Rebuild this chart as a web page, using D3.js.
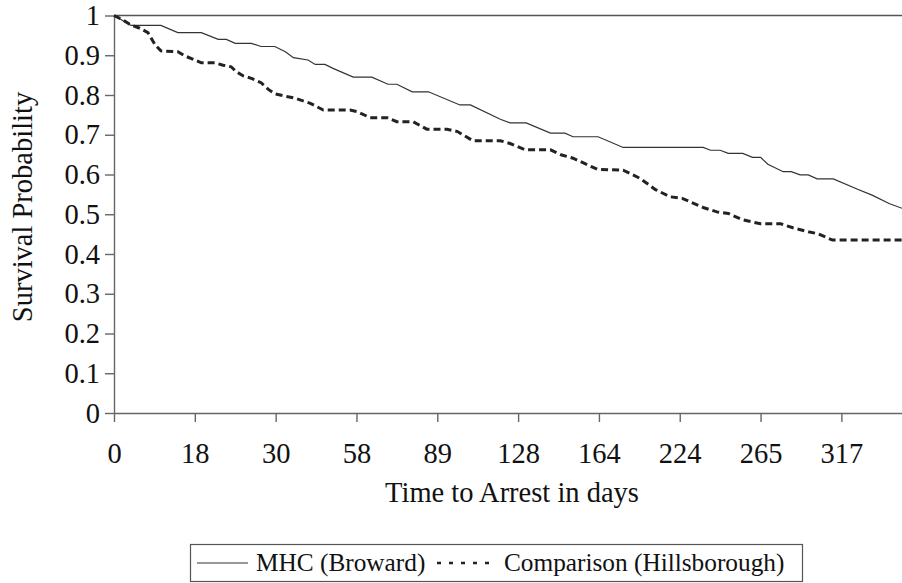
<!DOCTYPE html>
<html>
<head>
<meta charset="utf-8">
<script src="https://cdn.jsdelivr.net/npm/d3@7"></script>
<style>
  body { margin: 0; background: white; }
  svg text { font-family: "Liberation Serif", "Times New Roman", serif; fill: #111; }
</style>
</head>
<body>
<svg id="chart" width="902" height="583"></svg>
<script>
// x positions are in category-tick units (tick i sits at position i)
const tickLabels = ['0', '18', '30', '58', '89', '128', '164', '224', '265', '317'];
const yTicks = [0, 0.1, 0.2, 0.3, 0.4, 0.5, 0.6, 0.7, 0.8, 0.9, 1];

const mhcPos = [0, 0.21, 0.58, 0.79, 1.08, 1.29, 1.39, 1.50, 1.70, 1.82, 1.99, 2.12, 2.22, 2.40, 2.49,
  2.61, 2.71, 2.96, 3.19, 3.39, 3.50, 3.69, 3.89, 4.28, 4.41, 4.78, 4.90, 5.10, 5.40, 5.58, 5.68,
  5.99, 6.30, 7.29, 7.38, 7.50, 7.60, 7.78, 7.90, 8.00, 8.09, 8.28, 8.38, 8.49, 8.59, 8.70, 8.90,
  9.20, 9.38, 9.59, 9.75];
const mhcSurv = [1.0, 0.975, 0.975, 0.957, 0.957, 0.940, 0.940, 0.930, 0.930, 0.922, 0.922, 0.909, 0.894, 0.888, 0.877,
  0.877, 0.867, 0.845, 0.845, 0.827, 0.827, 0.808, 0.808, 0.775, 0.775, 0.739, 0.730, 0.730, 0.704, 0.704, 0.695,
  0.695, 0.668, 0.668, 0.661, 0.661, 0.653, 0.653, 0.643, 0.643, 0.626, 0.607, 0.607, 0.599, 0.599, 0.589, 0.589,
  0.563, 0.548, 0.527, 0.515];

const cmpPos = [0, 0.11, 0.21, 0.32, 0.42, 0.51, 0.58, 0.79, 0.88, 1.00, 1.08, 1.25, 1.35, 1.45, 1.51,
  1.60, 1.70, 1.82, 1.91, 1.99, 2.12, 2.24, 2.43, 2.59, 2.92, 3.01, 3.17, 3.38, 3.50, 3.70, 3.87,
  4.12, 4.25, 4.44, 4.78, 4.90, 5.09, 5.40, 5.54, 5.68, 5.98, 6.30, 6.51, 6.70, 6.88, 7.03, 7.29,
  7.46, 7.60, 7.78, 8.00, 8.25, 8.40, 8.59, 8.71, 8.89, 9.75];
const cmpSurv = [1.0, 0.989, 0.976, 0.968, 0.957, 0.926, 0.911, 0.909, 0.898, 0.888, 0.881, 0.881, 0.875, 0.871, 0.859,
  0.848, 0.842, 0.831, 0.814, 0.803, 0.797, 0.792, 0.779, 0.762, 0.762, 0.758, 0.743, 0.743, 0.733, 0.733, 0.714,
  0.714, 0.708, 0.685, 0.685, 0.678, 0.662, 0.662, 0.649, 0.641, 0.613, 0.611, 0.590, 0.562, 0.544, 0.540, 0.517,
  0.506, 0.502, 0.486, 0.476, 0.476, 0.466, 0.456, 0.451, 0.435, 0.435];

const seriesNames = ['MHC (Broward)', 'Comparison (Hillsborough)'];

const svg = d3.select('#chart');
const plotLeft = 114, plotRight = 902, plotTop = 15.5, plotBottom = 413;
const axisFont = 28.5, legendFont = 25.3;

const x = d3.scaleLinear().domain([0, 9.75]).range([plotLeft, plotRight]);
const y = d3.scaleLinear().domain([0, 1]).range([plotBottom, plotTop]);

// top border line at 1
svg.append('line')
  .attr('x1', plotLeft).attr('x2', plotRight)
  .attr('y1', y(1)).attr('y2', y(1))
  .attr('stroke', '#555').attr('stroke-width', 1.3);

// y axis
const yAxis = svg.append('g')
  .attr('transform', `translate(${plotLeft},0)`)
  .call(d3.axisLeft(y).tickValues(yTicks).tickFormat(d => d === 0 || d === 1 ? d : d.toFixed(1))
    .tickSize(9).tickSizeOuter(0).tickPadding(5));

// x axis
const xAxis = svg.append('g')
  .attr('transform', `translate(0,${plotBottom})`)
  .call(d3.axisBottom(x).tickValues(d3.range(tickLabels.length)).tickFormat(i => tickLabels[i])
    .tickSize(9).tickSizeOuter(0).tickPadding(21));

[yAxis, xAxis].forEach(a => {
  a.selectAll('path, line').attr('stroke', '#666').attr('stroke-width', 1.4);
  a.selectAll('text').style('font-size', axisFont + 'px').attr('fill', '#111');
});

// curves
const line = d3.line().x(d => x(d[0])).y(d => y(d[1]));

svg.append('path')
  .datum(d3.zip(mhcPos, mhcSurv))
  .attr('d', line)
  .attr('fill', 'none')
  .attr('stroke', '#333')
  .attr('stroke-width', 1.2);

svg.append('path')
  .datum(d3.zip(cmpPos, cmpSurv))
  .attr('d', line)
  .attr('fill', 'none')
  .attr('stroke', '#222')
  .attr('stroke-width', 3)
  .attr('stroke-dasharray', '7,4');

// axis titles
svg.append('text')
  .attr('x', 512)
  .attr('y', 502)
  .attr('text-anchor', 'middle')
  .style('font-size', axisFont + 'px')
  .text('Time to Arrest in days');

svg.append('text')
  .attr('transform', `translate(32,207) rotate(-90)`)
  .attr('text-anchor', 'middle')
  .style('font-size', axisFont + 'px')
  .text('Survival Probability');

// legend
const lg = svg.append('g');
lg.append('rect')
  .attr('x', 190.5).attr('y', 544.5).attr('width', 612).attr('height', 37)
  .attr('fill', 'white').attr('stroke', '#555').attr('stroke-width', 1.2);
lg.append('line')
  .attr('x1', 197).attr('x2', 248).attr('y1', 563).attr('y2', 563)
  .attr('stroke', '#333').attr('stroke-width', 1.2);
lg.append('text').attr('x', 256).attr('y', 571).style('font-size', legendFont + 'px').text(seriesNames[0]);
lg.append('line')
  .attr('x1', 437).attr('x2', 495).attr('y1', 563).attr('y2', 563)
  .attr('stroke', '#222').attr('stroke-width', 2.5).attr('stroke-dasharray', '4,8');
lg.append('text').attr('x', 504).attr('y', 571).style('font-size', legendFont + 'px').text(seriesNames[1]);
</script>
</body>
</html>
